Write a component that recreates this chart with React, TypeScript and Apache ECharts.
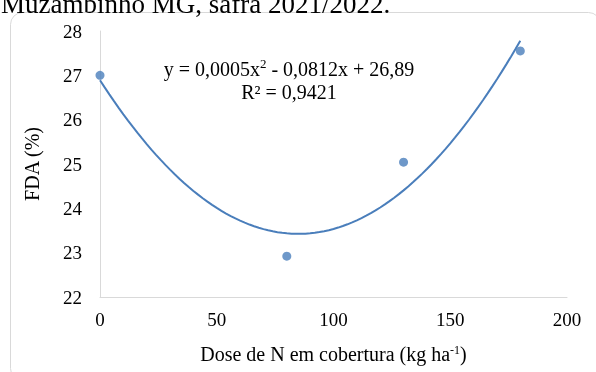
import React, { useEffect, useRef } from "react";
import * as echarts from "echarts";

const doses = [0, 80, 130, 180];
const fda = [27.0, 22.92, 25.04, 27.55];
const xTicks = [0, 50, 100, 150, 200];
const yTicks = [22, 23, 24, 25, 26, 27, 28];

// least-squares quadratic trendline through the observed points
function quadFit(xs: number[], ys: number[]) {
  const n = xs.length;
  let s1 = 0, s2 = 0, s3 = 0, s4 = 0, t0 = 0, t1 = 0, t2 = 0;
  for (let i = 0; i < n; i++) {
    const x = xs[i], y = ys[i];
    s1 += x; s2 += x * x; s3 += x * x * x; s4 += x * x * x * x;
    t0 += y; t1 += x * y; t2 += x * x * y;
  }
  const M = [
    [n, s1, s2, t0],
    [s1, s2, s3, t1],
    [s2, s3, s4, t2],
  ];
  for (let i = 0; i < 3; i++) {
    for (let j = i + 1; j < 3; j++) {
      const f = M[j][i] / M[i][i];
      for (let k = i; k < 4; k++) M[j][k] -= f * M[i][k];
    }
  }
  const c = [0, 0, 0];
  for (let i = 2; i >= 0; i--) {
    let s = M[i][3];
    for (let k = i + 1; k < 3; k++) s -= M[i][k] * c[k];
    c[i] = s / M[i][i];
  }
  return c; // c0 + c1 x + c2 x^2
}

export default function App() {
  const ref = useRef<HTMLDivElement>(null);
  useEffect(() => {
    if (!ref.current) return;
    const chart = echarts.init(ref.current, null, { renderer: "svg" });
    const [c0, c1, c2] = quadFit(doses, fda);
    const trend: number[][] = [];
    const xMax = doses[doses.length - 1];
    for (let i = 0; i <= 90; i++) {
      const x = (xMax * i) / 90;
      trend.push([x, c0 + c1 * x + c2 * x * x]);
    }
    const serif = "'Liberation Serif', 'Times New Roman', serif";
    chart.setOption({
      animation: false,
      graphic: [
        {
          type: "rect",
          z: -10,
          shape: { x: 10.5, y: 12.5, width: 590, height: 368, r: 12 },
          style: { fill: "#fff", stroke: "#d9d9d9", lineWidth: 1 },
        },
        {
          type: "text",
          left: 1,
          top: -10,
          style: {
            text: "Muzambinho MG, safra 2021/2022.",
            font: "27px " + serif,
            fill: "#000",
          },
        },
        {
          type: "text",
          x: 289,
          y: 57,
          style: {
            text: "y = 0,0005x{sup|2} - 0,0812x + 26,89\nR² = 0,9421",
            align: "center",
            verticalAlign: "top",
            fontFamily: serif,
            fontSize: 20,
            lineHeight: 23,
            fill: "#000",
            rich: {
              sup: { fontSize: 13, verticalAlign: "top", lineHeight: 23, fontFamily: serif },
            },
          },
        },
      ],
      grid: { left: 100, right: 29, top: 31, bottom: 75 },
      xAxis: {
        type: "value",
        min: xTicks[0],
        max: xTicks[xTicks.length - 1],
        interval: 50,
        name: "Dose de N em cobertura (kg ha{sup|-1})",
        nameLocation: "middle",
        nameGap: 47,
        nameTextStyle: {
          fontFamily: serif,
          fontSize: 20,
          color: "#000",
          rich: { sup: { fontSize: 12, verticalAlign: "top", fontFamily: serif, color: "#000" } },
        },
        axisLine: { show: true, lineStyle: { color: "#d9d9d9", width: 1 } },
        axisTick: { show: false },
        splitLine: { show: false },
        axisLabel: { fontFamily: serif, fontSize: 19, color: "#000", margin: 13 },
      },
      yAxis: {
        type: "value",
        min: yTicks[0],
        max: yTicks[yTicks.length - 1],
        interval: 1,
        name: "FDA (%)",
        nameLocation: "middle",
        nameGap: 58,
        nameTextStyle: { fontFamily: serif, fontSize: 20, color: "#000" },
        axisLine: { show: true, lineStyle: { color: "#d9d9d9", width: 1 } },
        axisTick: { show: false },
        splitLine: { show: false },
        axisLabel: { fontFamily: serif, fontSize: 19, color: "#000", margin: 18 },
      },
      series: [
        {
          type: "line",
          data: trend,
          showSymbol: false,
          symbol: "none",
          lineStyle: { color: "#4a7ebb", width: 2 },
          z: 2,
        },
        {
          type: "scatter",
          data: doses.map((d, i) => [d, fda[i]]),
          symbolSize: 9,
          itemStyle: { color: "#4a7ebb" },
          z: 3,
        },
      ],
    });
    return () => chart.dispose();
  }, []);
  return (
    <div
      ref={ref}
      style={{ position: "fixed", left: 0, top: 0, width: 596, height: 372 }}
    />
  );
}
